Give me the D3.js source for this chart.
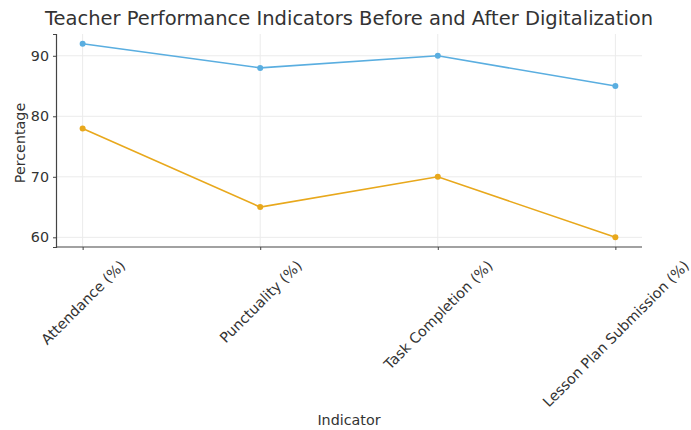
<!DOCTYPE html>
<html><head><meta charset="utf-8">
<script src="https://cdn.jsdelivr.net/npm/d3@7"></script>
<style>body{margin:0;background:#fff;} text{font-family:"DejaVu Sans",sans-serif;}</style>
</head><body><svg id="c" width="691" height="430"></svg>
<script>
const categories = ["Attendance (%)", "Punctuality (%)", "Task Completion (%)", "Lesson Plan Submission (%)"];
const afterValues = [92, 88, 90, 85];
const beforeValues = [78, 65, 70, 60];
const yTicks = [60, 70, 80, 90];
const colors = {after: "#5aaee0", before: "#e8a81c"};

const svg = d3.select("#c");
const mLeft = 56, mRight = 642, mTop = 34, mBottom = 247;
const fs = 14.3;
const x = d3.scalePoint().domain(categories).range([mLeft, mRight]).padding(0.15);
const y = d3.scaleLinear().domain([58.4, 93.6]).range([mBottom, mTop]);

// grid
svg.append("g").selectAll("line").data(yTicks).join("line")
  .attr("x1", mLeft).attr("x2", mRight).attr("y1", d => y(d)).attr("y2", d => y(d))
  .attr("stroke", "#ebebeb").attr("stroke-width", 1);
svg.append("g").selectAll("line").data(categories).join("line")
  .attr("x1", d => x(d)).attr("x2", d => x(d)).attr("y1", mTop).attr("y2", mBottom)
  .attr("stroke", "#ebebeb").attr("stroke-width", 1);

// axes
const yAxis = svg.append("g").attr("transform", `translate(${mLeft},0)`)
  .call(d3.axisLeft(y).tickValues(yTicks).tickSize(3).tickPadding(4));
yAxis.select(".domain").attr("stroke", "#444").attr("stroke-width", 1.2);
yAxis.selectAll("text").attr("font-size", fs).attr("fill", "#333");
yAxis.selectAll(".tick line").attr("stroke", "#444");

const xAxis = svg.append("g").attr("transform", `translate(0,${mBottom})`)
  .call(d3.axisBottom(x).tickSize(3).tickPadding(4));
xAxis.select(".domain").attr("stroke", "#444").attr("stroke-width", 1.2).attr("d", `M${mLeft},0H${mRight}`);
xAxis.selectAll(".tick line").attr("stroke", "#444");
xAxis.selectAll("text").attr("font-size", fs).attr("fill", "#333")
  .attr("text-anchor", "middle").attr("dy", "0.35em").attr("x", 0).attr("y", 0)
  .attr("transform", function() {
    const L = this.getComputedTextLength();
    const h = fs * 1.0;
    const cy = 11 + (L + h) / (2 * Math.SQRT2);
    return `translate(0,${cy}) rotate(-45)`;
  });

// lines
const line = d3.line().x((d, i) => x(categories[i])).y(d => y(d));
[[afterValues, colors.after], [beforeValues, colors.before]].forEach(([vals, col]) => {
  svg.append("path").datum(vals).attr("d", line).attr("fill", "none")
    .attr("stroke", col).attr("stroke-width", 1.6);
  svg.append("g").selectAll("circle").data(vals).join("circle")
    .attr("cx", (d, i) => x(categories[i])).attr("cy", d => y(d)).attr("r", 3)
    .attr("fill", col);
});

// labels
svg.append("text").attr("x", 349).attr("y", 25).attr("text-anchor", "middle")
  .attr("font-size", 19.5).attr("fill", "#333")
  .text("Teacher Performance Indicators Before and After Digitalization");
svg.append("text").attr("x", 349).attr("y", 425).attr("text-anchor", "middle")
  .attr("font-size", fs).attr("fill", "#333").text("Indicator");
svg.append("text").attr("transform", `translate(25,143) rotate(-90)`)
  .attr("text-anchor", "middle").attr("font-size", fs).attr("fill", "#333").text("Percentage");
</script></body></html>
